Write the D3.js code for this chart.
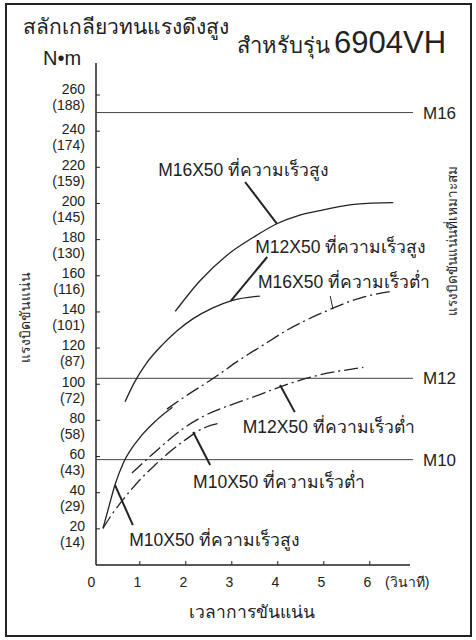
<!DOCTYPE html>
<html>
<head>
<meta charset="utf-8">
<script src="https://cdn.jsdelivr.net/npm/d3@7"></script>
<style>
body { margin: 0; background: #fff; }
text { font-family: "Liberation Sans", Arial, sans-serif; fill: #222; }
</style>
</head>
<body>
<div id="chart"></div>
<script>
var w = 476, h = 640;

// time (s), torque (N•m)
var m16High = [[1.78,140],[2.32,157],[2.9,171],[3.48,181],[3.99,188.5],[4.49,193.3],[5.0,196.2],[5.73,199.4],[6.52,200.2]];
var m12High = [[0.69,90],[0.9,101],[1.16,111.5],[1.5,121.5],[1.81,129],[2.17,136],[2.6,142],[3.01,146],[3.62,148.5]];
var m10High = [[0.21,20],[0.35,33],[0.47,44],[0.65,56],[1.02,70.5],[1.38,80],[1.72,87]];
var m16Low = [[1.6,86],[2.0,93],[2.61,103],[3.2,113.5],[3.7,121.5],[4.2,129.5],[5.0,139.5],[5.8,147.4],[6.52,151.3]];
var m12Low = [[0.84,50.6],[1.2,59],[1.6,68],[2.0,76],[2.47,83],[3.01,88.5],[3.62,94],[4.06,98.3],[4.78,104],[5.87,109]];
var m10Low = [[0.21,20],[0.4,27.5],[0.65,36],[1.0,46.5],[1.34,55],[1.67,62.5],[2.03,69.5],[2.32,74.5],[2.72,78]];

var seriesNames = ["M16X50 ที่ความเร็วสูง", "M12X50 ที่ความเร็วสูง", "M16X50 ที่ความเร็วต่ำ",
                   "M12X50 ที่ความเร็วต่ำ", "M10X50 ที่ความเร็วต่ำ", "M10X50 ที่ความเร็วสูง"];

var yTicks = [20,40,60,80,100,120,140,160,180,200,220,240,260];
var yTicksKgf = ["(14)","(29)","(43)","(58)","(72)","(87)","(101)","(116)","(130)","(145)","(159)","(174)","(188)"];
var xTicks = [0,1,2,3,4,5,6];

var boltNames = ["M16","M12","M10"];
var boltTorque = [250,103,58];

var svg = d3.select("#chart").append("svg")
    .attr("width", w)
    .attr("height", h);

svg.append("rect")
    .attr("x", 6).attr("y", 4)
    .attr("width", 465).attr("height", 632)
    .attr("fill", "#fff")
    .attr("stroke", "#222")
    .attr("stroke-width", 2);

var x = d3.scaleLinear().domain([0, 6]).range([93.3, 369.3]);
var y = d3.scaleLinear().domain([0, 260]).range([564.5, 94.5]);
var x0 = 96, xEnd = 410, yTop = 63, yBase = 565;

// axes
svg.append("line")
    .attr("x1", x0).attr("x2", x0).attr("y1", yTop).attr("y2", yBase)
    .attr("stroke", "#222").attr("stroke-width", 1.5);
svg.append("line")
    .attr("x1", x0).attr("x2", xEnd).attr("y1", yBase).attr("y2", yBase)
    .attr("stroke", "#222").attr("stroke-width", 1.5);

var yAxis = d3.axisRight(y).tickValues(yTicks).tickSize(4).tickFormat("");
svg.append("g")
    .attr("transform", "translate(" + x0 + ",0)")
    .call(yAxis)
    .call(function(g) { g.select(".domain").remove(); })
    .selectAll("line").attr("stroke", "#222");

var xAxis = d3.axisTop(x).tickValues(xTicks.slice(1)).tickSize(4).tickFormat("");
svg.append("g")
    .attr("transform", "translate(0," + yBase + ")")
    .call(xAxis)
    .call(function(g) { g.select(".domain").remove(); })
    .selectAll("line").attr("stroke", "#222");

// y tick labels (N•m and kgf•cm)
var ylab = svg.append("g").attr("font-size", 14).attr("text-anchor", "end");
yTicks.forEach(function(v, i) {
  var shift = v === 260 ? -5 : -2;
  ylab.append("text")
      .attr("x", 85).attr("y", y(v) + shift)
      .attr("dy", "0.35em")
      .text(v);
  ylab.append("text")
      .attr("x", 85).attr("y", y(v) + shift + 16)
      .attr("dy", "0.35em")
      .text(yTicksKgf[i]);
});

// x tick labels
svg.append("g").attr("font-size", 14).attr("text-anchor", "middle")
  .selectAll("text")
  .data(xTicks)
  .enter().append("text")
    .attr("x", function(d) { return x(d) - 2; })
    .attr("y", 587)
    .text(function(d) { return d; });

svg.append("text")
    .attr("x", 385).attr("y", 587)
    .attr("font-size", 14)
    .text("(วินาที)");

// bolt torque reference lines
boltNames.forEach(function(n, i) {
  svg.append("line")
      .attr("x1", x0).attr("x2", 413)
      .attr("y1", y(boltTorque[i])).attr("y2", y(boltTorque[i]))
      .attr("stroke", "#444").attr("stroke-width", 1);
  svg.append("text")
      .attr("x", 423).attr("y", y(boltTorque[i]))
      .attr("dy", "0.35em")
      .attr("font-size", 17)
      .text(n);
});

// curves
var line = d3.line()
    .x(function(d) { return x(d[0]); })
    .y(function(d) { return y(d[1]); })
    .curve(d3.curveMonotoneX);

var curves = [m16High, m12High, m16Low, m12Low, m10Low, m10High];
var dashed = [false, false, true, true, true, false];

curves.forEach(function(c, i) {
  svg.append("path")
      .datum(c)
      .attr("d", line)
      .attr("fill", "none")
      .attr("stroke", "#222")
      .attr("stroke-width", 1.3)
      .attr("stroke-dasharray", dashed[i] ? "14,4,2,4" : null);
});

// curve labels and leader lines (data units)
var labelAt = [[1.41,214.9],[3.52,172.3],[3.58,152.9],[3.25,72.7],[2.17,42.3],[0.78,10.2]];
var leaders = [
  [[3.30,211.6],[3.99,188.6]],
  [[3.78,170.1],[2.99,145.8]],
  [[5.15,148.5],[5.21,141.3]],
  [[4.06,99.3],[4.38,84.3]],
  [[2.17,73.3],[2.54,55.0]],
  [[0.47,44.0],[0.86,21.8]]
];
var leaderWidth = [2, 2, 1, 2, 2, 2];

seriesNames.forEach(function(n, i) {
  svg.append("text")
      .attr("x", x(labelAt[i][0])).attr("y", y(labelAt[i][1]))
      .attr("font-size", 17.5)
      .text(n);
  svg.append("line")
      .attr("x1", x(leaders[i][0][0])).attr("y1", y(leaders[i][0][1]))
      .attr("x2", x(leaders[i][1][0])).attr("y2", y(leaders[i][1][1]))
      .attr("stroke", "#222")
      .attr("stroke-width", leaderWidth[i]);
});

// titles
svg.append("text")
    .attr("x", 23).attr("y", 34)
    .attr("font-size", 21)
    .text("สลักเกลียวทนแรงดึงสูง");
var sub = svg.append("text").attr("y", 53);
sub.append("tspan").attr("x", 237).attr("font-size", 22).text("สำหรับรุ่น");
sub.append("tspan").attr("x", 334).attr("font-size", 31).text("6904VH");
svg.append("text")
    .attr("x", 43).attr("y", 65)
    .attr("font-size", 20)
    .text("N•m");

svg.append("text")
    .attr("x", 252).attr("y", 618)
    .attr("text-anchor", "middle")
    .attr("font-size", 17.5)
    .text("เวลาการขันแน่น");

svg.append("text")
    .attr("transform", "translate(30,317) rotate(-90)")
    .attr("text-anchor", "middle")
    .attr("font-size", 14)
    .text("แรงบิดขันแน่น");

svg.append("text")
    .attr("transform", "translate(457,241) rotate(-90)")
    .attr("text-anchor", "middle")
    .attr("font-size", 13.5)
    .text("แรงบิดขันแน่นที่เหมาะสม");
</script>
</body>
</html>
